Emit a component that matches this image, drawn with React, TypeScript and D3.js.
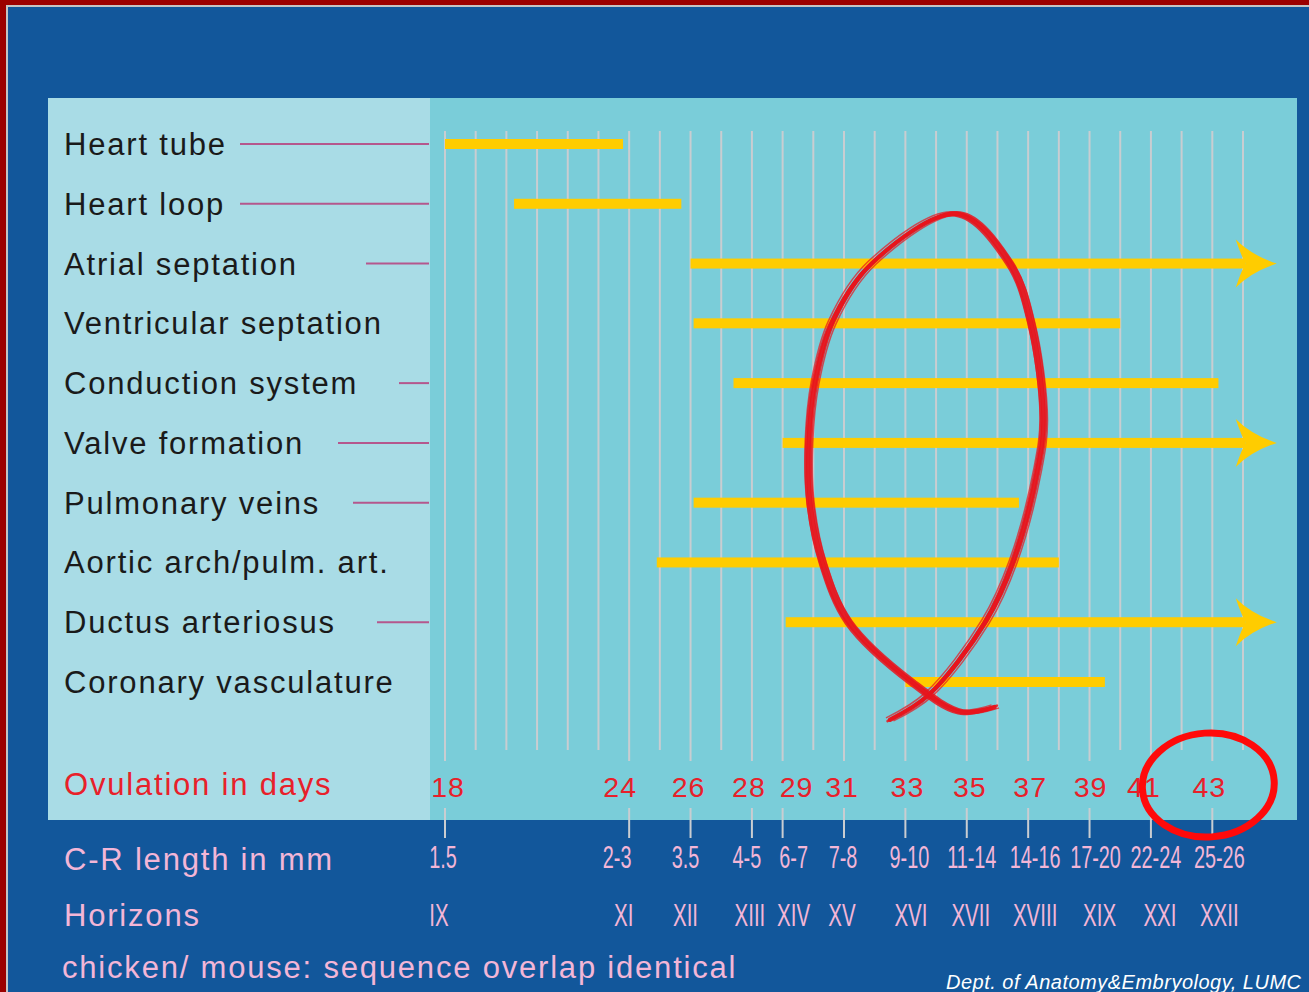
import React, { useEffect } from "react";
import * as d3 from "d3";

// ---- data ----
const structures = [
  "Heart tube",
  "Heart loop",
  "Atrial septation",
  "Ventricular septation",
  "Conduction system",
  "Valve formation",
  "Pulmonary veins",
  "Aortic arch/pulm. art.",
  "Ductus arteriosus",
  "Coronary vasculature",
];
const startDay = [18, 20.25, 26, 26.1, 27.4, 29, 26.1, 24.9, 29.1, 33];
const endDay = [23.8, 25.7, 45.1, 40, 43.2, 45.1, 36.7, 38, 45.1, 39.5];
const continues = [false, false, true, false, false, true, false, false, true, false];

const ovulationDays = [18, 24, 26, 28, 29, 31, 33, 35, 37, 39, 41, 43];
const crLengths = ["1.5", "2-3", "3.5", "4-5", "6-7", "7-8", "9-10", "11-14", "14-16", "17-20", "22-24", "25-26"];
const horizons = ["IX", "XI", "XII", "XIII", "XIV", "XV", "XVI", "XVII", "XVIII", "XIX", "XXI", "XXII"];
const gridDays = d3.range(18, 45);

// hand drawn loop, in (day, row) units
const loopDay = [32.5, 33.75, 35.6, 36.5, 37.3, 37.5, 37.1, 36.4, 34.7, 31.9, 30.6, 30.05, 29.85, 29.9, 30.3, 31.15, 33.2, 34.8, 35.9];
const loopRow = [9.63, 9.22, 8.0, 7.0, 5.46, 4.6, 3.0, 2.0, 1.17, 2.0, 3.0, 4.0, 5.0, 6.0, 7.0, 8.0, 9.0, 9.5, 9.42];

// ---- layout ----
const W = 1309;
const H = 992;
const BLUE = "#12579b";
const PANEL_L = "#a9dce6";
const PANEL_C = "#7acdd9";
const GRID = "#c9cdd1";
const YELLOW = "#ffcc00";
const PINK = "#f3b6d7";
const RED = "#e8202a";
const LEADER = "#b5578d";
const leaderFrom = [240, 240, 366, null, 399, 338, 353, null, 377, null];
// hand placed nudges of the tick labels on the slide
const dayNudge = [3, -9, -2, -3, 14, -2, 2, 3, 2, 1, -7, -3];
const crNudge = [-2, -12, -5, -5, 11, -1, 4, 5, 7, 6, 5, 7];
const horNudge = [-6, -5.5, -5, -2, 11, -2, 5.5, 4, 7, 10, 9, 7];

const font = "'Liberation Sans', Arial, Helvetica, sans-serif";

export default function App() {
  useEffect(() => {
    document.body.style.margin = "0";
  }, []);

  const x = d3.scaleLinear().domain([18, 44]).range([445, 1243]);
  const y = d3.scaleLinear().domain([0, 9]).range([144, 682]);

  const bar = 10;
  const headLen = 41;
  const headHalf = 24;

  const loopLine = d3
    .line<number>()
    .x((i) => x(loopDay[i]))
    .y((i) => y(loopRow[i]))
    .curve(d3.curveCatmullRom.alpha(0.5));
  const loopIdx = d3.range(loopDay.length);
  const strokes = [
    { dx: 0, dy: 0, w: 4.5, o: 0.95 },
    { dx: 2.5, dy: -1.5, w: 2.5, o: 0.85 },
    { dx: -2.5, dy: 1.5, w: 2.5, o: 0.85 },
    { dx: 4, dy: 1, w: 1.5, o: 0.7 },
    { dx: -3.5, dy: -2, w: 1.5, o: 0.7 },
  ];

  const labelled = new Set(ovulationDays);

  return (
    <svg width={W} height={H} style={{ display: "block" }} fontFamily={font}>
      {/* slide frame */}
      <rect width={W} height={H} fill="#9b0000" />
      <rect x={6} y={5} width={W} height={H} fill="#c4c4c4" />
      <rect x={8} y={7} width={W} height={H} fill={BLUE} />

      {/* panels */}
      <rect x={48} y={98} width={382} height={722} fill={PANEL_L} />
      <rect x={430} y={98} width={867} height={722} fill={PANEL_C} />

      {/* grid */}
      {gridDays.map((d) => (
        <line
          key={d}
          x1={x(d)}
          x2={x(d)}
          y1={131}
          y2={labelled.has(d) ? 761 : 750}
          stroke={GRID}
          strokeWidth={2}
        />
      ))}
      {ovulationDays.map((d) => (
        <line key={"t" + d} x1={x(d)} x2={x(d)} y1={808} y2={838} stroke={GRID} strokeWidth={2} />
      ))}

      {/* row labels and leaders */}
      {structures.map((s, i) => (
        <g key={s}>
          <text x={64} y={y(i) + 11} fontSize={31} letterSpacing={1.8} fill="#1a1a1a">
            {s}
          </text>
          {leaderFrom[i] != null && (
            <line x1={leaderFrom[i]!} x2={429} y1={y(i)} y2={y(i)} stroke={LEADER} strokeWidth={2} />
          )}
        </g>
      ))}

      {/* bars */}
      {structures.map((s, i) => {
        const x0 = x(startDay[i]);
        const x1 = x(endDay[i]);
        const cy = y(i);
        if (!continues[i]) {
          return <rect key={"b" + i} x={x0} y={cy - bar / 2} width={x1 - x0} height={bar} fill={YELLOW} />;
        }
        const base = x1 - headLen;
        const head = `M${x1},${cy} Q${base + 16},${cy - 8} ${base},${cy - headHalf} Q${base + 6},${cy - 6} ${base + 10},${cy} Q${base + 6},${cy + 6} ${base},${cy + headHalf} Q${base + 16},${cy + 8} ${x1},${cy} Z`;
        return (
          <g key={"b" + i}>
            <rect x={x0} y={cy - bar / 2} width={base + 10 - x0} height={bar} fill={YELLOW} />
            <path d={head} fill={YELLOW} />
          </g>
        );
      })}

      {/* hand drawn loop */}
      {strokes.map((s, k) => (
        <path
          key={"l" + k}
          d={loopLine(loopIdx) || ""}
          transform={`translate(${s.dx},${s.dy})`}
          fill="none"
          stroke="#e8141c"
          strokeWidth={s.w}
          strokeOpacity={s.o}
          strokeLinecap="round"
        />
      ))}

      {/* axis rows */}
      <text x={64} y={795} fontSize={31} letterSpacing={1.8} fill={RED}>
        Ovulation in days
      </text>
      {ovulationDays.map((d, i) => (
        <text
          key={"o" + d}
          x={x(d) + dayNudge[i]}
          y={797}
          fontSize={28.5}
          letterSpacing={1}
          textAnchor="middle"
          fill={RED}
        >
          {d}
        </text>
      ))}

      <text x={64} y={870} fontSize={31} letterSpacing={1.8} fill={PINK}>
        C-R length in mm
      </text>
      {crLengths.map((c, i) => (
        <text
          key={"c" + i}
          transform={`translate(${x(ovulationDays[i]) + crNudge[i]},${868}) scale(0.64,1)`}
          fontSize={31}
          textAnchor="middle"
          fill={PINK}
        >
          {c}
        </text>
      ))}

      <text x={64} y={926} fontSize={31} letterSpacing={1.8} fill={PINK}>
        Horizons
      </text>
      {horizons.map((h, i) => (
        <text
          key={"h" + i}
          transform={`translate(${x(ovulationDays[i]) + horNudge[i]},${926}) scale(0.64,1)`}
          fontSize={32}
          textAnchor="middle"
          fill={PINK}
        >
          {h}
        </text>
      ))}

      <text x={62} y={978} fontSize={31} letterSpacing={1.8} fill={PINK}>
        chicken/ mouse: sequence overlap identical
      </text>
      <text x={946} y={989} fontSize={20} fontStyle="italic" letterSpacing={0.5} fill="#ffffff">
        Dept. of Anatomy&amp;Embryology, LUMC
      </text>

      {/* red circle around 43 */}
      <ellipse
        cx={x(43) - 4}
        cy={785}
        rx={66}
        ry={52}
        fill="none"
        stroke="#ff0a0a"
        strokeWidth={7}
        transform={`rotate(-4,${x(43) - 4},785)`}
      />
    </svg>
  );
}
